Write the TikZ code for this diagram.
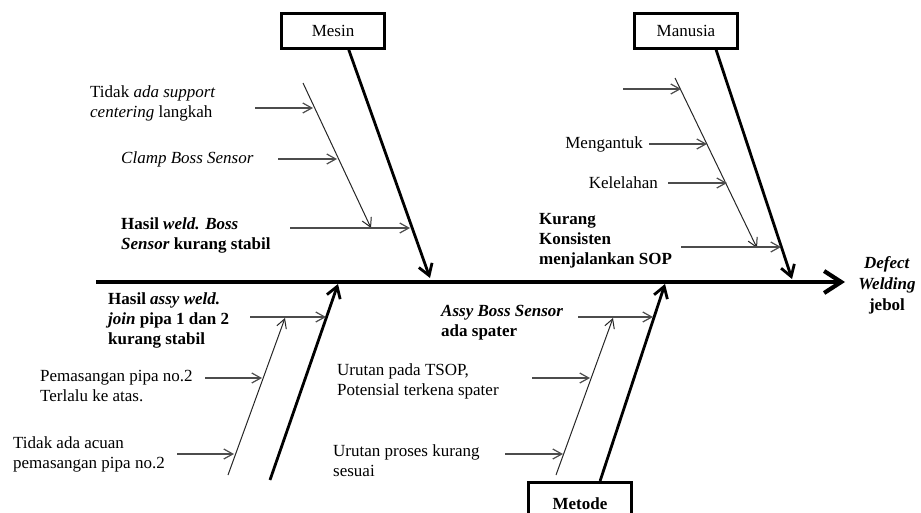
\documentclass[tikz,border=0pt]{standalone}
\usepackage{fontspec}
\setmainfont{Liberation Serif}
\usetikzlibrary{arrows.meta,positioning}

\begin{document}
\begin{tikzpicture}[x=1pt,y=-1pt,>={Straight Barb[length=9pt,width=10pt]},
	cat node/.style={draw,line width=2.6pt,minimum width=103pt,minimum height=35pt,inner sep=0pt,font=\fontsize{17}{20}\selectfont},
	cause node/.style={align=left,inner sep=0pt,anchor=west,font=\fontsize{17}{20}\selectfont},
	bold cause/.style={cause node,font=\fontsize{17}{20}\selectfont\bfseries},
	spine/.style={line width=4.2pt,-{Straight Barb[length=17pt,width=22pt]}},
	bone/.style={line width=2.8pt,-{Straight Barb[length=11pt,width=14pt]}},
	sub bone/.style={line width=1pt,black!85,->},
	cause arrow/.style={line width=1.2pt,black!70,->}]
	
	\clip (0,0) rectangle (921,512);
	
	\node[cat node] (mesin) at (333,31) {Mesin};
	\node[cat node] (manusia) at (686,31) {Manusia};
	\node[cat node,anchor=north,minimum height=42pt,font=\fontsize{17}{20}\selectfont\bfseries] (metode) at (580,481) {Metode};
	\node[align=center,inner sep=0pt,font=\fontsize{17}{21}\selectfont\bfseries] (effect) at (887,285) {\textit{Defect}\\\textit{Welding}\\jebol};
	
	\coordinate (tail) at (96,282);
	\coordinate (head) at (845,282);
	\draw[spine] (tail) -- (head);
	
	% Mesin
	\coordinate (mesin tip) at (430,278);
	\coordinate (mesin sub a) at (303,83);
	\coordinate (mesin sub b) at (371,228);
	\coordinate (m1 s) at (255,108); \coordinate (m1 e) at (313,108);
	\coordinate (m2 s) at (278,159); \coordinate (m2 e) at (337,159);
	\coordinate (m3 s) at (290,228); \coordinate (m3 e) at (410,228);
	\draw[bone] (mesin.-50) -- (mesin tip);
	\draw[sub bone] (mesin sub a) -- (mesin sub b);
	\path[cause arrow] (m1 s) edge (m1 e) (m2 s) edge (m2 e) (m3 s) edge (m3 e);
	\node[cause node] (support) at (90,103) {Tidak \textit{ada support}\\\textit{centering} langkah};
	\node[cause node] (clamp) at (121,159) {\textit{Clamp Boss Sensor}};
	\node[bold cause] (weld boss) at (121,235) {Hasil \textit{weld. Boss}\\\textit{Sensor} kurang stabil};
	
	% Manusia
	\coordinate (manusia tip) at (792,279);
	\coordinate (manusia sub a) at (675,78);
	\coordinate (manusia sub b) at (757,248);
	\coordinate (h1 s) at (623,89); \coordinate (h1 e) at (681,89);
	\coordinate (h2 s) at (649,144); \coordinate (h2 e) at (707,144);
	\coordinate (h3 s) at (668,183); \coordinate (h3 e) at (727,183);
	\coordinate (h4 s) at (681,247); \coordinate (h4 e) at (781,247);
	\draw[bone] (manusia.-32) -- (manusia tip);
	\draw[sub bone] (manusia sub a) -- (manusia sub b);
	\path[cause arrow] (h1 s) edge (h1 e) (h2 s) edge (h2 e) (h3 s) edge (h3 e)
	(h4 s) edge (h4 e);
	\node[cause node,anchor=east] (ngantuk) at (643,144) {Mengantuk};
	\node[cause node,anchor=east] (lelah) at (658,183) {Kelelahan};
	\node[bold cause] (konsisten) at (539,241) {Kurang\\Konsisten\\menjalankan SOP};
	
	% Metode
	\coordinate (metode tip) at (665,284);
	\coordinate (metode sub a) at (556,475);
	\coordinate (metode sub b) at (613,318);
	\coordinate (t1 s) at (578,317); \coordinate (t1 e) at (653,317);
	\coordinate (t2 s) at (532,378); \coordinate (t2 e) at (590,378);
	\coordinate (t3 s) at (505,454); \coordinate (t3 e) at (563,454);
	\draw[bone] (metode.48) -- (metode tip);
	\draw[sub bone] (metode sub a) -- (metode sub b);
	\path[cause arrow] (t1 s) edge (t1 e) (t2 s) edge (t2 e) (t3 s) edge (t3 e);
	\node[bold cause] (spater) at (441,323) {\textit{Assy Boss Sensor}\\ada spater};
	\node[cause node] (tsop) at (337,381) {Urutan pada TSOP,\\Potensial terkena spater};
	\node[cause node] (urutan) at (333,461) {Urutan proses kurang\\sesuai};
	
	% pipa
	\coordinate (pipa base) at (270,480);
	\coordinate (pipa tip) at (338,284);
	\coordinate (pipa sub a) at (228,475);
	\coordinate (pipa sub b) at (285,318);
	\coordinate (p1 s) at (250,317); \coordinate (p1 e) at (326,317);
	\coordinate (p2 s) at (205,378); \coordinate (p2 e) at (262,378);
	\coordinate (p3 s) at (177,454); \coordinate (p3 e) at (234,454);
	\draw[bone] (pipa base) -- (pipa tip);
	\draw[sub bone] (pipa sub a) -- (pipa sub b);
	\path[cause arrow] (p1 s) edge (p1 e) (p2 s) edge (p2 e) (p3 s) edge (p3 e);
	\node[bold cause] (assy join) at (108,320) {Hasil \textit{assy weld.}\\\textit{join} pipa 1 dan 2\\kurang stabil};
	\node[cause node] (pasang) at (40,386) {Pemasangan pipa no.2\\Terlalu ke atas.};
	\node[cause node] (acuan) at (13,454) {Tidak ada acuan\\pemasangan pipa no.2};
\end{tikzpicture}
\end{document}
